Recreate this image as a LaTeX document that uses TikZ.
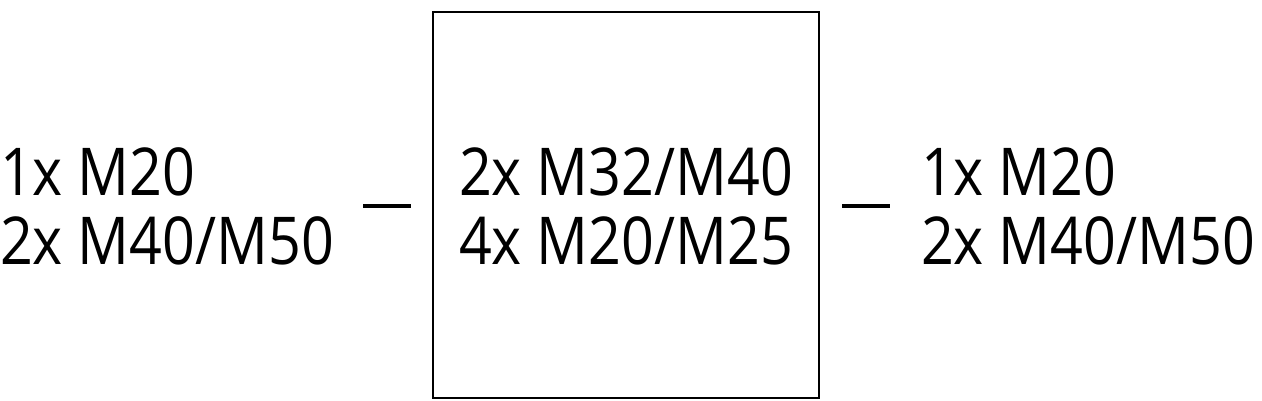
\documentclass[tikz,border=0pt]{standalone}
\usepackage{graphicx}
\usepackage{fontspec}
\setmainfont{Open Sans}
\newcommand{\narrowtxt}[1]{\scalebox{0.87}[1]{#1}}
\begin{document}
\begin{tikzpicture}[x=1pt,y=-1pt,
  lbl/.style={inner sep=0pt,outer sep=0pt,font=\fontsize{66}{70}\selectfont},
  dashline/.style={line width=3.5pt},
  boxstyle/.style={draw,line width=2.5pt,inner sep=0pt}]
\useasboundingbox (0,0) rectangle (1262,400);
\node[boxstyle,minimum width=386pt,minimum height=386pt] (box) at (626,205) {};
\node[lbl,anchor=base west] (l1) at (0,195) {\narrowtxt{1x M20}};
\node[lbl,anchor=base west] (l2) at (0,264) {\narrowtxt{2x M40/M50}};
\node[lbl,anchor=base] (c1) at (626,195) {\narrowtxt{2x M32/M40}};
\node[lbl,anchor=base] (c2) at (626,264) {\narrowtxt{4x M20/M25}};
\node[lbl,anchor=base west] (r1) at (921,195) {\narrowtxt{1x M20}};
\node[lbl,anchor=base west] (r2) at (921,264) {\narrowtxt{2x M40/M50}};
\coordinate (la) at (363,206);
\coordinate (lb) at (411,206);
\coordinate (ra) at (842,206);
\coordinate (rb) at (890,206);
\draw[dashline] (la) -- (lb);
\draw[dashline] (ra) -- (rb);
\end{tikzpicture}
\end{document}
